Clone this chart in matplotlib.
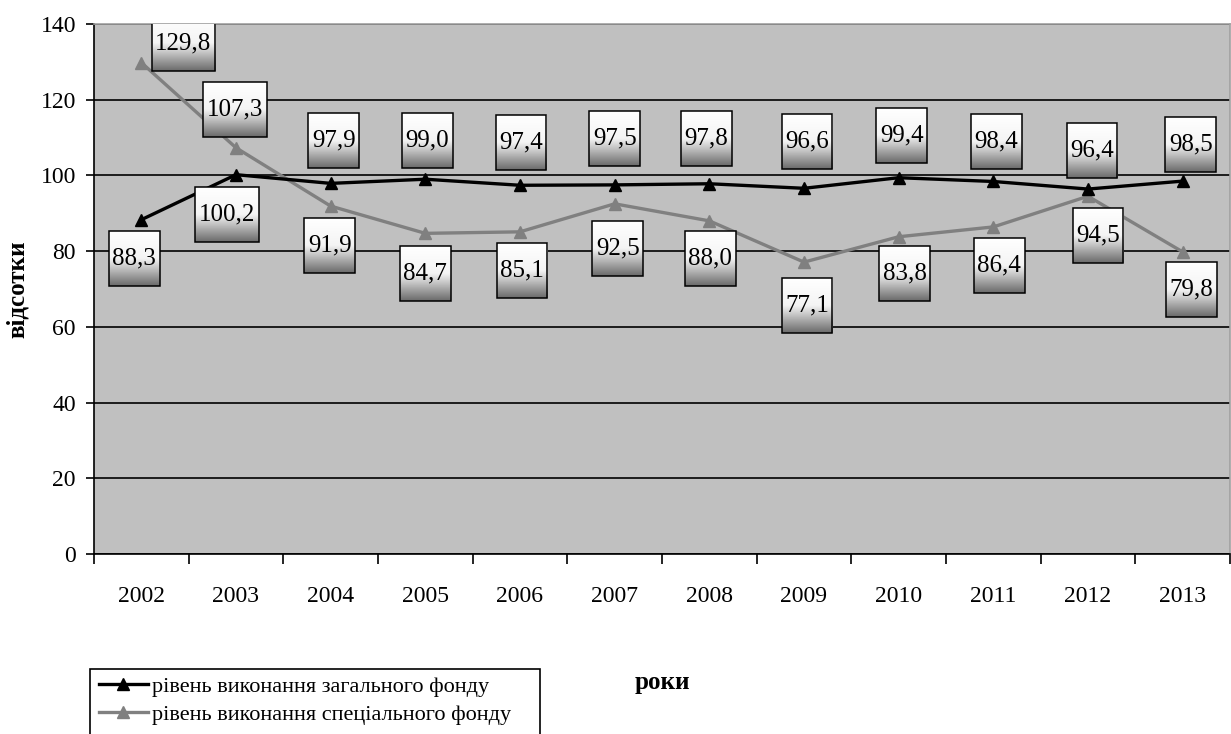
import matplotlib
matplotlib.use('Agg')
import matplotlib.pyplot as plt
import numpy as np
from matplotlib.patches import Rectangle
from matplotlib.colors import LinearSegmentedColormap

plt.rcParams['font.family'] = ['Liberation Serif', 'DejaVu Serif']

years = ['2002', '2003', '2004', '2005', '2006', '2007',
         '2008', '2009', '2010', '2011', '2012', '2013']
general_fund = [88.3, 100.2, 97.9, 99.0, 97.4, 97.5, 97.8, 96.6, 99.4, 98.4, 96.4, 98.5]
special_fund = [129.8, 107.3, 91.9, 84.7, 85.1, 92.5, 88.0, 77.1, 83.8, 86.4, 94.5, 79.8]
series_names = ['рівень виконання загального фонду',
                'рівень виконання спеціального фонду']
y_ticks = [0, 20, 40, 60, 80, 100, 120, 140]

# where each value box sits relative to its marker, in pixels (dx right, dy down)
general_offsets = [(-7, 39), (-9, 40), (3, -43), (2, -39), (1, -43), (0, -46),
                   (-3, -45), (3, -47), (3, -42), (3, -40), (4, -39), (8, -37)]
special_offsets = [(42, -19), (-1, -38), (-1, 39), (0, 40), (2, 39), (3, 45),
                   (1, 38), (3, 43), (6, 37), (6, 39), (10, 39), (9, 38)]

W, H = 1231, 734
fig = plt.figure(figsize=(W / 100, H / 100), dpi=100)
ax = fig.add_axes([94 / W, 1 - 554 / H, (1230 - 94) / W, (554 - 24) / H])
ax.set_facecolor('#c0c0c0')

x = np.arange(len(years))
ax.plot(x, special_fund, color='#808080', lw=2.4, marker='^', ms=9,
        markeredgecolor='#808080', zorder=3, label=series_names[1])
ax.plot(x, general_fund, color='black', lw=2.4, marker='^', ms=9,
        zorder=3.2, label=series_names[0])

ax.set_xlim(-0.5, len(years) - 0.5)
ax.set_ylim(0, 140)
ax.set_autoscale_on(False)

ax.set_yticks(y_ticks)
ax.set_yticklabels([str(t) for t in y_ticks])
ax.set_xticks(x)
ax.set_xticklabels(years)
ax.set_xticks(np.arange(-0.5, len(years)), minor=True)
ax.tick_params(axis='x', which='major', length=0, pad=23, labelsize=17)
ax.tick_params(axis='x', which='minor', length=7, width=1.2, direction='out')
ax.tick_params(axis='y', length=6, width=1.2, pad=7, labelsize=17)
ax.yaxis.grid(True, color='black', lw=1.2)
ax.set_axisbelow(True)

for side in ['left', 'bottom']:
    ax.spines[side].set_linewidth(1.2)
for side in ['top', 'right']:
    ax.spines[side].set_color('#a0a0a0')
    ax.spines[side].set_linewidth(1.2)

ax.set_ylabel('відсотки', fontsize=18, fontweight='bold', labelpad=8)
fig.text(662 / W, 1 - 683 / H, 'роки', fontsize=18, fontweight='bold',
         ha='center', va='center')

# value boxes with a white-to-grey vertical gradient
grad_cmap = LinearSegmentedColormap.from_list('box', ['#ffffff', '#f4f4f4', '#6a6a6a'])
grad = np.linspace(0, 1, 128).reshape(-1, 1)
renderer = fig.canvas.get_renderer()
to_data = ax.transData.inverted()
box_h = 55


def value_box(xi, v, off):
    px, py = ax.transData.transform((xi, v))
    cx, cy = px + off[0], py - off[1]
    dcx, dcy = to_data.transform((cx, cy))
    txt = ax.text(dcx, dcy, f'{v:.1f}'.replace('.', ','), fontsize=18,
                  ha='center', va='center', zorder=6)
    tw = txt.get_window_extent(renderer).width
    bw = tw + 7
    x0, y0 = to_data.transform((cx - bw / 2, cy - box_h / 2))
    x1, y1 = to_data.transform((cx + bw / 2, cy + box_h / 2))
    ax.imshow(grad, extent=(x0, x1, y0, y1), cmap=grad_cmap, aspect='auto',
              interpolation='bilinear', zorder=4.5)
    ax.add_patch(Rectangle((x0, y0), x1 - x0, y1 - y0, fill=False,
                           ec='black', lw=1.1, zorder=5))


for i in range(len(years)):
    value_box(x[i], general_fund[i], general_offsets[i])
    value_box(x[i], special_fund[i], special_offsets[i])

# legend in a frame that runs off the bottom edge
handles, labels = ax.get_legend_handles_labels()
leg = fig.legend(handles[::-1], labels[::-1], loc='upper left',
                 bbox_to_anchor=(99 / W, 1 - 676 / H), frameon=False,
                 fontsize=16, handlelength=2.2, handletextpad=0.2,
                 labelspacing=0.35, borderaxespad=0, borderpad=0)
fig.patches.append(Rectangle((90 / W, -0.05), (540 - 90) / W, 1 - 669 / H + 0.05,
                             transform=fig.transFigure, fill=False,
                             ec='black', lw=1.2))

fig.savefig('out.png', dpi=100)
